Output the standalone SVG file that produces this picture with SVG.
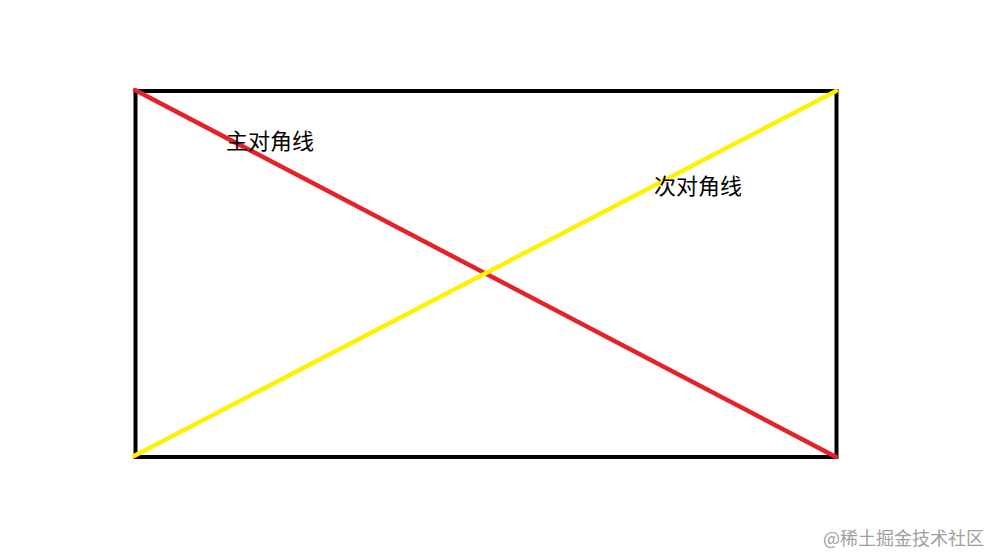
<svg xmlns="http://www.w3.org/2000/svg" width="990" height="555" viewBox="0 0 990 555">
<style>
.lbl{font-family:"Noto Sans CJK SC","Microsoft YaHei",sans-serif;font-size:22px;fill:#000}
.wm{font-family:"Noto Sans CJK SC",sans-serif;font-size:18px;fill:#a0a0a0}
</style>
<rect x="0" y="0" width="990" height="555" fill="#fff"/>
<g id="frame">
<rect x="135.5" y="91" width="701" height="366" fill="none" stroke="#000" stroke-width="4"/>
</g>
<g id="connectors">
<line x1="135" y1="90" x2="836" y2="457" stroke="#e5212a" stroke-width="4.5" stroke-linecap="round"/>
<line x1="134" y1="456" x2="836" y2="91" stroke="#fff200" stroke-width="4.5" stroke-linecap="round"/>
</g>
<g id="label-main"><text class="lbl" x="226" y="149">主对角线</text></g>
<g id="label-sub"><text class="lbl" x="654" y="194">次对角线</text></g>
<g id="watermark"><text class="wm" x="823" y="545">@稀土掘金技术社区</text></g>
</svg>
